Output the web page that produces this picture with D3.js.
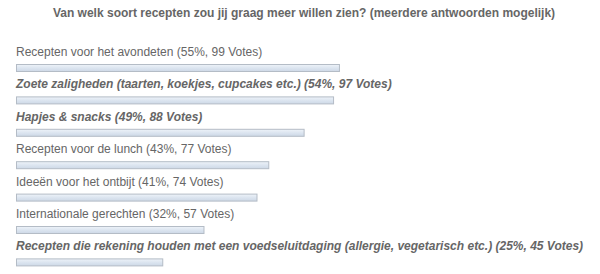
<!DOCTYPE html>
<html><head><meta charset="utf-8">
<script src="https://cdn.jsdelivr.net/npm/d3@7"></script>
<style>body{margin:0;background:#fff;} svg{display:block;}</style>
</head><body>
<svg id="c" width="600" height="274"></svg>
<script>
const title = "Van welk soort recepten zou jij graag meer willen zien? (meerdere antwoorden mogelijk)";
const categories = [
  "Recepten voor het avondeten",
  "Zoete zaligheden (taarten, koekjes, cupcakes etc.)",
  "Hapjes & snacks",
  "Recepten voor de lunch",
  "Ideeën voor het ontbijt",
  "Internationale gerechten",
  "Recepten die rekening houden met een voedseluitdaging (allergie, vegetarisch etc.)"
];
const percents = [55, 54, 49, 43, 41, 32, 25];
const votes = [99, 97, 88, 77, 74, 57, 45];
const emphasized = [false, true, true, false, false, false, true];

const svg = d3.select("#c");
const defs = svg.append("defs");
const g = defs.append("linearGradient").attr("id","bg").attr("x1",0).attr("y1",0).attr("x2",0).attr("y2",1);
g.append("stop").attr("offset","0%").attr("stop-color","#eef3f9");
g.append("stop").attr("offset","50%").attr("stop-color","#dce5f0");
g.append("stop").attr("offset","100%").attr("stop-color","#cdd8e6");

const x = d3.scaleLinear().domain([0,100]).range([16, 605]);
const y = d3.scaleBand().domain(d3.range(categories.length)).range([36, 36 + 32.4*7]).paddingInner(0);

svg.append("text").attr("x", 304).attr("y", 17).attr("text-anchor","middle")
  .attr("font-family","Liberation Sans, Arial, sans-serif").attr("font-size",12).attr("font-weight","bold")
  .attr("fill","#666").text(title);

const rows = svg.selectAll("g.row").data(categories).join("g").attr("class","row")
  .attr("transform",(d,i)=>`translate(0,${y(i)})`);

rows.append("text").attr("x",16).attr("y",20)
  .attr("font-family","Liberation Sans, Arial, sans-serif").attr("font-size",12)
  .attr("font-weight",(d,i)=>emphasized[i]?"bold":"normal")
  .attr("font-style",(d,i)=>emphasized[i]?"italic":"normal")
  .attr("fill",(d,i)=>emphasized[i]?"#666":"#666")
  .text((d,i)=>`${d} (${percents[i]}%, ${votes[i]} Votes)`);

rows.append("rect").attr("x",x(0)+0.5).attr("y",28.5)
  .attr("width",(d,i)=>x(percents[i])-x(0)-1).attr("height",7)
  .attr("fill","url(#bg)").attr("stroke","#b4bcc6").attr("stroke-width",1);
</script>
</body></html>
